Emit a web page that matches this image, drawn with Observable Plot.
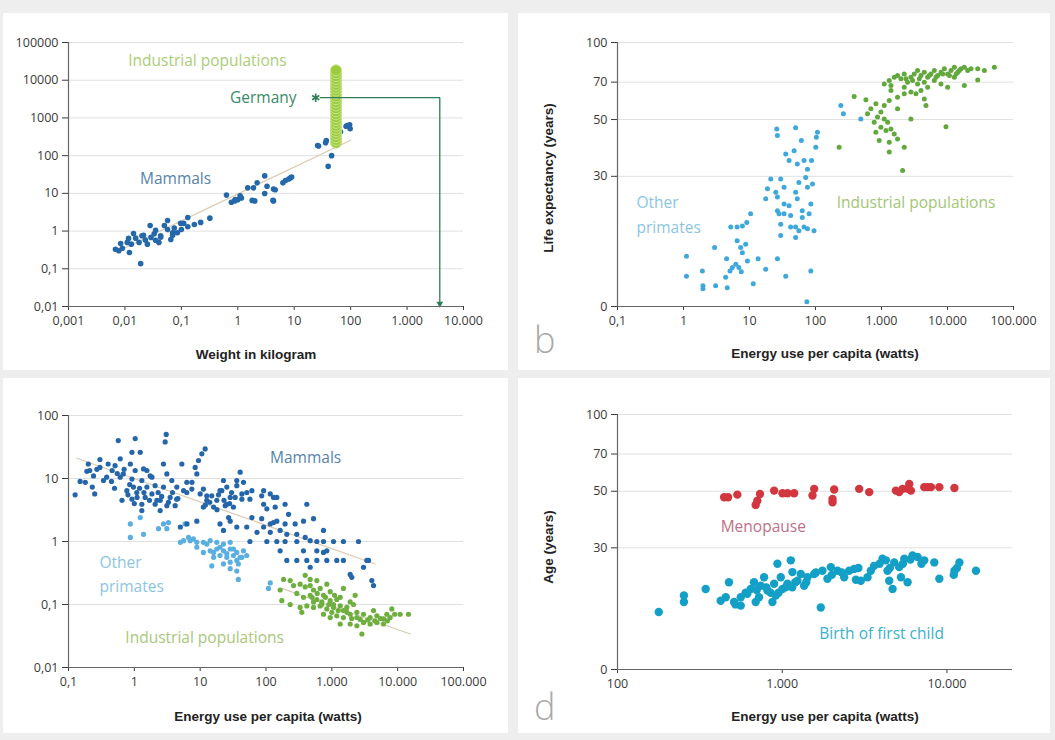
<!DOCTYPE html>
<html><head><meta charset="utf-8">
<script src="https://cdn.jsdelivr.net/npm/d3@7"></script>
<script src="https://cdn.jsdelivr.net/npm/@observablehq/plot@0.6"></script>
<style>
html,body{margin:0;padding:0;}
body{background:#eeeeee;width:1055px;height:740px;position:relative;overflow:hidden;font-family:"Open Sans",sans-serif;}
.panel{position:absolute;background:#ffffff;}
.panel svg{display:block;overflow:visible;}
.title{position:absolute;font-family:"Liberation Sans",Arial,sans-serif;font-weight:bold;font-size:13.5px;line-height:16px;color:#222;white-space:nowrap;transform:translate(-50%,-50%);}
.ytitle{position:absolute;font-family:"Liberation Sans",Arial,sans-serif;font-weight:bold;font-size:13.5px;line-height:16px;color:#222;white-space:nowrap;transform:translate(-50%,-50%) rotate(-90deg);}
.letter{position:absolute;font-family:"Open Sans",sans-serif;font-weight:300;font-size:36px;line-height:36px;color:#a9a9a9;}
</style>
</head><body>
<script>
// ---------- Axis ticks ----------
const xTicksA = [0.001, 0.01, 0.1, 1, 10, 100, 1000, 10000];
const xLabelsA = ["0,001", "0,01", "0,1", "1", "10", "100", "1.000", "10.000"];
const yTicksA = [0.01, 0.1, 1, 10, 100, 1000, 10000, 100000];
const yLabelsA = ["0,01", "0,1", "1", "10", "100", "1000", "10000", "100000"];
const xTicksEnergy = [0.1, 1, 10, 100, 1000, 10000, 100000];
const xLabelsEnergy = ["0,1", "1", "10", "100", "1.000", "10.000", "100.000"];
const yTicksB = [9.3, 30, 50, 70, 100];
const yLabelsB = ["0", "30", "50", "70", "100"];
const yTicksC = [0.01, 0.1, 1, 10, 100];
const yLabelsC = ["0,01", "0,1", "1", "10", "100"];
const xTicksD = [100, 1000, 10000];
const xLabelsD = ["100", "1.000", "10.000"];
const yTicksD = [10, 30, 50, 70, 100];
const yLabelsD = ["0", "30", "50", "70", "100"];

// ---------- Panel a: metabolic rate (W) vs weight (kg) ----------
const mammalsA = [[0.0068,0.33],[0.0078,0.3],[0.009,0.35],[0.012,0.27],[0.011,0.5],[0.013,0.45],[0.0155,0.65],[0.0178,0.5],[0.02,0.75],[0.019,0.137],[0.023,0.58],[0.025,0.45],[0.029,0.68],[0.033,0.85],[0.035,0.57],[0.04,0.5],[0.043,0.75],[0.05,1.4],[0.057,1.1],[0.065,0.6],[0.07,0.9],[0.075,1.2],[0.085,0.9],[0.1,1.1],[0.11,1.6],[0.13,1.3],[0.17,1.5],[0.22,1.7],[0.32,2.2],[0.63,9],[0.77,5.8],[0.88,6.3],[1.0,6.8],[1.16,7.5],[1.5,14],[1.9,14],[2.2,19],[2.0,6.3],[3.0,29],[3.0,9.9],[3.3,15.5],[4.3,6.3],[4.6,12.5],[7,22],[8,24],[9,27],[27,180],[37,250],[40,52],[46,100],[52,210],[83,600],[96,660],[66,430],[0.0084,0.47],[0.0116,0.64],[0.0142,0.86],[0.0213,0.77],[0.028,1.4],[0.035,1.05],[0.043,0.69],[0.057,1.9],[0.07,0.77],[0.097,1.6],[0.13,2.3],[0.9,6.9],[1.1,8.6],[1.8,6.5],[4.2,6.5],[4.3,13],[6.3,19],[8.6,26],[26,185],[36,220],[87,630],[98,515]];
const industrialWeightA = [55];
const industrialRateA = [220,260,310,370,440,520,620,740,880,1050,1250,1500,1800,2150,2600,3100,3700,4400,5300,6300,7500,9000,10700,12800,15300,18300];
const mammalTrendA = [[0.007,0.28],[100,257]];
const germanyA = [[24,3450]];
const germanyPathA = [[29,3450],[3800,3450],[3800,0.0125]];
const germanyArrowA = [[3800,0.0118]];

// ---------- Panel b: life expectancy vs energy use ----------
const primatesB = [[1.11,14.6],[1.11,12.2],[1.93,12.8],[1.97,11.2],[1.97,10.9],[2.96,15.8],[3.07,11.2],[4.5,14.3],[4.35,12.1],[4.6,11],[5.06,12.8],[5.5,13.2],[6.2,13.6],[6.9,13.2],[7.5,12.7],[6.5,16.8],[7.35,15.8],[7.8,15.1],[8.75,16.3],[5.2,19],[6.5,19],[7.8,19.2],[9.1,19.8],[10.4,21.4],[9.3,14],[11.4,11.4],[13.5,14.3],[17.6,13],[26.5,14.3],[35.4,12.2],[85,12.8],[74,9.7],[17.6,24.5],[18.7,26.8],[21,29.3],[25,26],[26.5,24.9],[29.7,29.3],[33.4,27.2],[26.5,43.3],[25.9,45.9],[50,46.4],[35.4,36.7],[39.8,34.6],[47.4,37.8],[53,33.5],[61,41.4],[67,34.6],[75.5,32],[71,29.7],[56,28.4],[50,26],[53,24.5],[75.5,27.2],[85,23.4],[80,21.4],[63,22],[63,20.7],[42,21.1],[33.4,21.4],[28,21.4],[29.7,19.5],[29.7,17.6],[42,19],[50,19],[56,18.4],[67,19],[75.5,18.7],[95,18.4],[50,17.3],[107,44.6],[103,42.6],[101,39],[87,34.6],[90,28],[39.8,23],[33.4,23.4],[26.5,22],[242,56.7],[265,52.7],[486,50.3]];
const industrialB = [[385,61.5],[580,59.7],[822,57.6],[1100,68.9],[1310,71],[1390,67.9],[1560,73.2],[1750,74.3],[1970,72.1],[2210,75.4],[2480,70],[2790,73.2],[3130,75.4],[3520,77.7],[3960,74.3],[4450,76.5],[5000,73.2],[5610,75.4],[6310,77.7],[7100,74.3],[7960,76.5],[8950,78.9],[10050,75.4],[11300,77.7],[12700,80.1],[14300,76.5],[16000,78.9],[18000,80.1],[20200,77.7],[22700,78.9],[28700,78.9],[36200,77.7],[51300,80.1],[18000,67.9],[28700,71.4],[10050,66.9],[7960,68.9],[5000,66.9],[3960,64.9],[3330,63],[4450,60.2],[4720,56.7],[2790,64],[2210,63],[1750,61.1],[1310,59.3],[1100,56.7],[979,53.5],[871,51.1],[775,48.8],[979,46.6],[822,44.6],[1100,50.3],[1240,48.8],[1170,45.3],[1390,45.9],[1560,43.9],[1750,42],[1310,40.8],[923,41.4],[1310,37.3],[2210,39],[1750,55.1],[2790,50.3],[9480,46.9],[2090,31.6],[614,52.7],[1390,64.9],[2210,66.9],[3520,68.9],[4450,70],[6310,71],[12700,73.2],[690,55.1],[2350,72.1],[2960,71],[3740,72.1],[5300,74.3],[6700,73.2],[8450,75.4],[10700,74.3],[13500,75.4],[15100,77.7],[228,39]];

// ---------- Panel c: metabolic rate per kg vs energy use ----------
const mammalsC = [[0.126,5.5],[0.57,40],[1.03,43],[3.05,50],[2.94,38],[0.2,17],[0.27,14],[0.24,11],[0.18,8.7],[0.23,7.3],[0.25,5.7],[0.38,10.5],[0.46,13.4],[0.51,16],[0.61,20.5],[0.68,11.8],[0.92,26],[1.23,26],[0.87,17],[1.03,13.4],[0.92,9.8],[0.97,7.3],[1.09,6],[0.92,4.7],[0.65,4.5],[1.3,9.3],[1.55,7.3],[1.46,5],[1.3,3.9],[1.3,3.1],[1.85,5.7],[2.07,3.9],[2.47,3.1],[2.77,17],[3.12,11.8],[3.71,9.3],[2.77,7.3],[3.5,5],[4.17,3.7],[3.12,3.7],[2.47,4.5],[2.07,7.7],[1.74,11],[4.42,7.3],[5.27,17],[6.27,8.7],[6.27,6],[7.47,6.8],[8.9,11.8],[9.44,19.3],[10.6,24.6],[11.9,29.5],[8.4,15],[10,5.7],[12.6,4.5],[11.2,3.5],[15,5.3],[17.9,4.5],[21.3,6.4],[22.6,9.3],[25.4,7.3],[25.4,3.9],[28.6,5],[32,3.5],[36,9.3],[40.5,12.6],[45.5,8.7],[51,6],[43,4.7],[61,6.4],[92,6.4],[103,3.3],[130,5],[86,2.3],[130,2],[0.61,10.5],[0.77,6.4],[36,7.7],[43,5.7],[57,4.7],[86,5.3],[116,5.7],[146,5],[92,3.9],[138,3.5],[195,3.9],[220,2.7],[417,3.9],[371,2.1],[527,2.3],[747,1.5],[277,1.9],[195,1.9],[146,2.1],[116,1.9],[92,1.7],[73,1.4],[116,1.4],[164,1.5],[207,1.3],[294,1.3],[394,1.16],[469,1.03],[592,1],[747,1],[1060,1],[1500,1],[2540,1],[57,1],[103,1],[146,1],[195,1],[294,1],[164,0.71],[207,0.5],[294,0.5],[417,0.5],[592,0.5],[839,0.5],[1190,0.5],[1500,0.5],[469,0.39],[592,0.71],[839,0.71],[3610,0.5],[3030,0.39],[2010,0.27],[4050,0.24],[1900,0.3],[4300,0.2],[747,0.67],[371,0.71],[20,1.9],[22.6,1.5],[27,2.4],[16,3.5],[8.9,2.1],[6.3,1.9],[5,1.7],[12.6,5.3],[20,6.4],[24,3.7],[11.2,6.8],[7.5,8.7],[5.6,6.4],[4.4,4.7],[0.21,13.4],[0.3,15],[0.34,9.3],[1.55,13.4],[2.2,4.5],[1.85,10.5],[1.38,14.2],[28.6,2.1],[36,1.7],[51,1.7],[61,2.4],[3400,0.5],[0.8,5.5],[0.85,8],[1.1,5],[1.2,7],[1.4,6],[1.0,4],[1.7,4.5],[2.3,6],[2.6,5.2],[3.3,4.2],[3.8,6],[4.6,4.8],[12,3.8],[14,4.2],[18,3.2],[19,5.5],[23,4.5],[28,4],[30,6],[34,5],[0.5,7],[0.45,9],[0.55,12],[0.7,14],[0.4,17],[0.3,20],[0.15,9],[0.19,13]];
const primatesC = [[5.6,1.03],[7.05,1.03],[8.9,0.97],[11.2,0.97],[14.2,1.03],[17.9,0.97],[22.6,0.91],[28.6,0.97],[11.2,0.67],[14.2,0.71],[17.9,0.76],[22.6,0.71],[28.6,0.76],[36,0.67],[45.5,0.71],[16,0.56],[20,0.6],[25.4,0.56],[32,0.6],[40.5,0.56],[51,0.6],[15,0.41],[22.6,0.44],[28.6,0.47],[36,0.5],[28.6,0.37],[36,0.34],[38,0.25],[116,0.22],[109,0.18],[0.87,1.9],[0.87,1.16],[1.38,1.3],[2.33,1.6],[3.12,1.6],[5.9,1.9],[6.65,1.16],[7.9,1.1],[5,0.97],[8.9,0.81],[12.6,0.91],[16,0.67],[20,0.81],[25.4,0.64],[32,0.76],[43,0.56],[38,0.44],[1.23,2.4],[3.3,2.0],[2.77,1.9]];
const industrialC = [[185,0.25],[262,0.2],[330,0.21],[394,0.19],[469,0.2],[527,0.17],[665,0.18],[294,0.15],[371,0.13],[469,0.14],[592,0.12],[747,0.14],[944,0.115],[1190,0.12],[330,0.09],[417,0.095],[527,0.09],[665,0.095],[839,0.085],[1060,0.09],[1340,0.095],[1690,0.09],[2130,0.1],[747,0.07],[944,0.062],[1190,0.066],[1500,0.062],[1900,0.07],[2400,0.075],[3030,0.07],[3820,0.062],[4830,0.066],[6090,0.059],[7690,0.062],[3030,0.052],[3820,0.049],[4830,0.052],[6090,0.049],[2400,0.046],[1900,0.049],[1340,0.049],[2860,0.034],[174,0.115],[233,0.1],[350,0.075],[527,0.11],[705,0.11],[1060,0.1],[1500,0.08],[2400,0.062],[4300,0.08],[10900,0.07],[14600,0.07],[592,0.24],[839,0.21],[1500,0.18],[944,0.16],[469,0.25],[394,0.29],[233,0.24],[164,0.17],[8150,0.085],[6840,0.07],[1900,0.11],[2260,0.14],[1340,0.13],[600,0.15],[800,0.13],[1100,0.14],[700,0.1],[900,0.1],[1250,0.08],[1700,0.075],[2000,0.06],[2700,0.058],[3500,0.057],[4500,0.055],[5500,0.06],[7000,0.055],[9000,0.07],[1000,0.075],[500,0.13]];
const mammalTrendC = [[0.134,21],[4550,0.44]];
const industrialTrendC = [[174,0.18],[15500,0.034]];

// ---------- Panel d: age vs energy use ----------
const menopauseD = [[444,47.4],[469,47.4],[534,48.5],[690,44.2],[706,45.9],[733,48.8],[893,50.3],[1003,49.1],[1076,49.1],[1181,49.1],[1527,48.1],[1563,51.1],[2067,50.8],[2020,46.6],[2020,45.3],[2931,51.1],[3373,49.6],[4897,50.3],[5130,49.6],[5377,51.1],[5768,51.1],[5904,53.4],[6043,50.3],[7282,51.9],[7631,51.9],[7998,51.9],[8990,51.9],[11100,51.5]];
const birthD = [[178,16.8],[253,19.5],[253,18.4],[343,20.7],[423,18.6],[454,19.2],[475,22],[510,18.4],[560,19.2],[560,17.8],[614,19.8],[644,20.7],[674,22],[690,18.4],[723,19.2],[740,21.3],[776,23],[813,20.4],[872,18.4],[893,21.7],[914,19.5],[935,26],[980,23],[1003,20.7],[1076,21.7],[1127,26.8],[1153,24.1],[1237,22.3],[1296,23.7],[1358,21.3],[1423,23],[1563,23.7],[1714,17.5],[1755,24.4],[1882,22.7],[1972,25.2],[2165,24.4],[2377,23],[2549,24.4],[2733,24.8],[3001,22.3],[3295,23],[3451,24.4],[3614,25.5],[4061,27.2],[4256,26.8],[4356,24.4],[4462,22.3],[4677,20.7],[4786,26.3],[5130,25.2],[5260,23],[5508,27.2],[5768,22],[6180,28],[6637,27.6],[7282,26.8],[8375,26.3],[8990,22.7],[11100,24.4],[11900,26.3],[15000,24.4],[800,21],[850,20],[1050,21],[1200,22],[1400,22],[1600,24],[2000,23.5],[2300,24],[2900,25],[3900,26],[4500,25],[5400,26],[6000,27],[7000,26],[11500,25],[11000,23.5],[600,20],[700,20.5],[520,18],[950,20],[1150,21],[2800,22.5]];

// ---------- helpers ----------
const fmt = (ticks, labels) => d => { const i = ticks.indexOf(d); return i < 0 ? "" : labels[i]; };
const X = d => d[0], Y = d => d[1];
const FONT = '"Open Sans", sans-serif';

function label(text, x, y, color, anchor) {
  return Plot.text([[x, y]], {x: X, y: Y, text: () => text, fill: color, fontSize: 15.5, textAnchor: anchor, fontFamily: FONT});
}

function makePanel(cfg) {
  const div = document.createElement("div");
  div.className = "panel";
  div.style.left = cfg.left + "px";
  div.style.top = cfg.top + "px";
  div.style.width = cfg.width + "px";
  div.style.height = cfg.height + "px";
  const chart = Plot.plot({
    width: cfg.width,
    height: cfg.height,
    marginTop: cfg.m[0], marginRight: cfg.m[1], marginBottom: cfg.m[2], marginLeft: cfg.m[3],
    style: {fontFamily: FONT, fontSize: "12.5px", color: "#3a3a3a", background: "transparent", overflow: "visible"},
    x: {type: "log", domain: cfg.xDomain, ticks: cfg.xTicks, tickFormat: fmt(cfg.xTicks, cfg.xLabels), tickSize: 4, tickPadding: 6, label: null},
    y: {type: "log", domain: cfg.yDomain, ticks: cfg.yTicks, tickFormat: fmt(cfg.yTicks, cfg.yLabels), tickSize: 6, tickPadding: 4, label: null},
    marks: [
      Plot.ruleY(cfg.grid, {stroke: "#e0e0e0", strokeWidth: 1}),
      ...cfg.marks,
      Plot.ruleX([cfg.xDomain[0]], {stroke: "#666", strokeWidth: 1.2}),
      Plot.ruleY([cfg.yDomain[0]], {stroke: "#666", strokeWidth: 1.2})
    ]
  });
  div.appendChild(chart);
  document.body.appendChild(div);
}

function addText(cls, text, x, y) {
  const el = document.createElement("div");
  el.className = cls;
  el.textContent = text;
  el.style.left = x + "px";
  el.style.top = y + "px";
  document.body.appendChild(el);
}

// ---------- Panel a ----------
makePanel({
  left: 3, top: 13, width: 505, height: 357, m: [29, 45, 64, 65],
  xDomain: [0.001, 10000], yDomain: [0.01, 100000],
  xTicks: xTicksA, xLabels: xLabelsA, yTicks: yTicksA, yLabels: yLabelsA,
  grid: yTicksA.slice(1),
  marks: [
    Plot.line(mammalTrendA, {x: X, y: Y, stroke: "#dccbb0", strokeWidth: 1.2}),
    Plot.dot(mammalsA, {x: X, y: Y, r: 2.8, fill: "#2568aa"}),
    Plot.dot(industrialRateA, {x: () => industrialWeightA[0], y: d => d, r: 5.5, fill: "#9ccc3c", stroke: "#c8e28c", strokeWidth: 1}),
    Plot.line(germanyPathA, {x: X, y: Y, stroke: "#2f7d57", strokeWidth: 1.3}),
    Plot.dot(germanyArrowA, {x: X, y: Y, symbol: "triangle2", rotate: 180, r: 3.2, fill: "#2f7d57"}),
    Plot.dot(germanyA, {x: X, y: Y, symbol: "asterisk", r: 4, stroke: "#2f7d57", strokeWidth: 1.6}),
    label("Industrial populations", 0.29, 33000, "#abcd76", "middle"),
    label("Germany", 11, 3450, "#3a8a68", "end"),
    label("Mammals", 0.079, 24.6, "#5583aa", "middle")
  ]
});

// ---------- Panel b ----------
makePanel({
  left: 518, top: 13, width: 532, height: 357, m: [29, 37, 64, 99],
  xDomain: [0.1, 100000], yDomain: [9.3, 100],
  xTicks: xTicksEnergy, xLabels: xLabelsEnergy, yTicks: yTicksB, yLabels: yLabelsB,
  grid: yTicksB.slice(1),
  marks: [
    Plot.dot(primatesB, {x: X, y: Y, r: 2.5, fill: "#3ea8dc"}),
    Plot.dot(industrialB, {x: X, y: Y, r: 2.5, fill: "#62a83c"}),
    label("Other", 0.194, 23.5, "#8cc5df", "start"),
    label("primates", 0.194, 18.9, "#8cc5df", "start"),
    label("Industrial populations", 210, 23.5, "#a2c673", "start")
  ]
});

// ---------- Panel c ----------
makePanel({
  left: 3, top: 378, width: 505, height: 355, m: [37, 45, 66, 65],
  xDomain: [0.1, 100000], yDomain: [0.01, 100],
  xTicks: xTicksEnergy, xLabels: xLabelsEnergy, yTicks: yTicksC, yLabels: yLabelsC,
  grid: yTicksC.slice(1),
  marks: [
    Plot.line(mammalTrendC, {x: X, y: Y, stroke: "#dccbb0", strokeWidth: 1.2}),
    Plot.line(industrialTrendC, {x: X, y: Y, stroke: "#d7cbb9", strokeWidth: 1.2}),
    Plot.dot(primatesC, {x: X, y: Y, r: 2.6, fill: "#5aaee0"}),
    Plot.dot(mammalsC, {x: X, y: Y, r: 2.6, fill: "#2566ab"}),
    Plot.dot(industrialC, {x: X, y: Y, r: 2.6, fill: "#6faf3f"}),
    label("Mammals", 400, 21.5, "#5583aa", "middle"),
    label("Other", 0.296, 0.45, "#8cc5df", "start"),
    label("primates", 0.296, 0.186, "#8cc5df", "start"),
    label("Industrial populations", 0.73, 0.029, "#a8c879", "start")
  ]
});

// ---------- Panel d ----------
makePanel({
  left: 518, top: 378, width: 532, height: 355, m: [36, 38, 64, 99],
  xDomain: [100, 25000], yDomain: [10, 100],
  xTicks: xTicksD, xLabels: xLabelsD, yTicks: yTicksD, yLabels: yLabelsD,
  grid: yTicksD.slice(1),
  marks: [
    Plot.dot(menopauseD, {x: X, y: Y, r: 4.2, fill: "#d2363f"}),
    Plot.dot(birthD, {x: X, y: Y, r: 4.2, fill: "#14a0c6"}),
    label("Menopause", 423, 36.1, "#c07089", "start"),
    label("Birth of first child", 1680, 13.8, "#3ab1cd", "start")
  ]
});

// ---------- Axis titles and panel letters ----------
addText("title", "Weight in kilogram", 256, 355);
addText("title", "Energy use per capita (watts)", 825, 354);
addText("title", "Energy use per capita (watts)", 268, 717);
addText("title", "Energy use per capita (watts)", 825, 717);
addText("ytitle", "Life expectancy (years)", 549, 178);
addText("ytitle", "Age (years)", 549, 547);
addText("letter", "b", 534, 322);
addText("letter", "d", 534, 689);
</script>
</body></html>
